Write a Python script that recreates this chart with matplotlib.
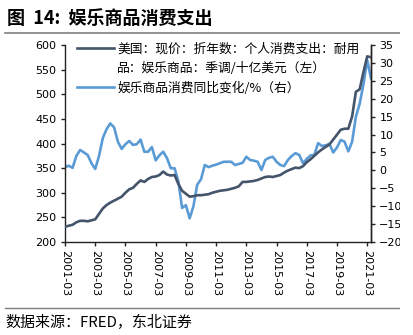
import matplotlib
matplotlib.use("Agg")
import matplotlib.pyplot as plt
from matplotlib.lines import Line2D
from matplotlib.patches import Rectangle

plt.rcParams['font.family'] = ['DejaVu Sans', 'Noto Sans CJK SC']

# quarterly, 2001Q1 .. 2021Q2
spend = [231, 233, 235, 240, 243, 243, 242, 244, 246, 257,
         268, 275, 280, 284, 288, 292, 300, 307, 310, 318,
         325, 322, 328, 332, 333, 336, 343, 337, 335, 336,
         318, 304, 298, 292, 293, 295, 295, 296, 297, 300,
         302, 304, 305, 306, 308, 310, 313, 322, 322, 323,
         324, 326, 329, 332, 333, 332, 334, 336, 341, 345,
         348, 351, 350, 354, 362, 368, 375, 382, 388, 393,
         398, 408, 418, 428, 430, 430, 455, 505, 510, 545,
         577, 575]
yoy = [0.9, 1.3, 0.7, 4.0, 5.7, 5.0, 4.3, 2.0, 0.4, 4.0,
       9.0, 11.5, 13.1, 12.0, 8.0, 6.0, 7.3, 8.2, 7.1, 7.3,
       8.6, 5.2, 5.2, 6.5, 2.8, 4.2, 5.2, 3.4, 0.6, 0.6,
       -3.0, -10.5, -9.7, -13.4, -10.0, -4.0, -2.5, 1.5, 0.9, 1.3,
       1.6, 2.0, 2.4, 2.4, 2.4, 1.5, 1.8, 2.1, 3.8, 2.9,
       2.7, 2.4, 0.1, 2.9, 3.5, 3.8, 2.4, 1.5, 1.2, 2.9,
       4.0, 4.8, 4.3, 2.0, 3.2, 4.2, 4.3, 7.6, 6.8, 7.0,
       7.4, 5.0, 6.4, 8.5, 8.0, 5.3, 8.0, 15.0, 18.6, 24.0,
       30.8, 25.7]
tick_labels = ['2001-03', '2003-03', '2005-03', '2007-03', '2009-03', '2011-03',
               '2013-03', '2015-03', '2017-03', '2019-03', '2021-03']

label_left = '美国：现价：折年数：个人消费支出：耐用'
label_left2 = '品：娱乐商品：季调/十亿美元（左）'
label_right = '娱乐商品消费同比变化/%（右）'

dark = '#44546A'
light = '#5B9BD5'

fig = plt.figure(figsize=(4.13, 3.35), dpi=100)
ax = fig.add_axes([65/413, 1-242/335, (371-65)/413, (242-45)/335])
ax2 = ax.twinx()

x = list(range(len(spend)))
ax.plot(x, spend, color=dark, lw=1.9, zorder=3)
ax2.plot(x, yoy, color=light, lw=1.9)
ax.set_zorder(ax2.get_zorder() + 1)
ax.patch.set_visible(False)

ax.set_xlim(0, len(spend) - 1)
ax.set_ylim(200, 600)
ax2.set_ylim(-20, 35)
ax.set_yticks(range(200, 601, 50))
ax2.set_yticks(range(-20, 36, 5))
ax.set_xticks(range(0, len(spend), 8))
ax.set_xticklabels(tick_labels, rotation=-90)

for a in (ax, ax2):
    a.spines['top'].set_visible(False)
    for s in a.spines.values():
        s.set_color('#222222')
        s.set_linewidth(1.0)
    a.tick_params(length=3, width=1, color='#222222', labelsize=8, colors='#000000', pad=3)
ax2.spines['left'].set_visible(False)
ax2.spines['bottom'].set_visible(False)

handles = [Line2D([], [], color=dark, lw=1.9),
           Line2D([], [], color='none', lw=0),
           Line2D([], [], color=light, lw=1.9)]
leg = ax.legend(handles, [label_left, label_left2, label_right], loc='upper left',
                bbox_to_anchor=(0.0, 1.07), frameon=False, handlelength=2.9,
                handletextpad=0.3, labelspacing=0.5,
                prop={'family': 'Noto Sans CJK SC', 'size': 9.2})

fig.text(7/413, 1-18/335, '图  14:  娱乐商品消费支出', fontsize=13, fontweight='bold',
         family=['Noto Sans CJK SC'], va='center', ha='left')
fig.add_artist(Line2D([5/413, 400/413], [1-33/335, 1-33/335], color='#7f7f7f', lw=1.2))
fig.add_artist(Line2D([5/413, 400/413], [1-308/335, 1-308/335], color='#7f7f7f', lw=1.0))
fig.text(5/413, 1-322/335, '数据来源：FRED，东北证券', fontsize=10.8,
         family=['Noto Sans CJK SC'], va='center', ha='left')

fig.add_artist(Rectangle((400/413, 0), 13/413, 1, transform=fig.transFigure,
                         facecolor='white', edgecolor='none', zorder=10))

fig.savefig('out.png', dpi=100)
